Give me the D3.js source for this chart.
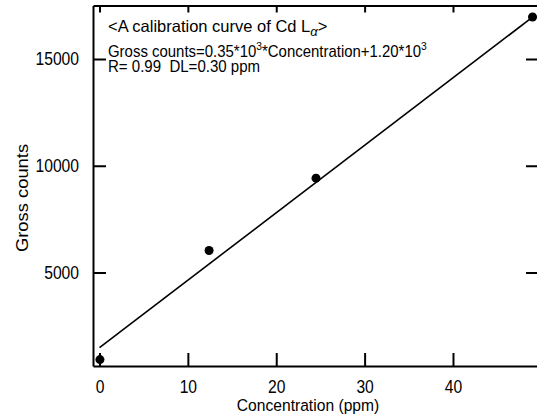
<!DOCTYPE html>
<html>
<head>
<meta charset="utf-8">
<script src="https://cdn.jsdelivr.net/npm/d3@7"></script>
<style>
  body { margin: 0; background: #fff; }
  svg text { font-family: "Liberation Sans", Arial, sans-serif; fill: #000; }
  .axis path, .axis line { stroke: #000; stroke-width: 2; }
</style>
</head>
<body>
<svg id="chart"></svg>
<script>
// Datos
const concentration = [0.05, 12.4, 24.5, 49.0];
const grossCounts = [920, 6030, 9420, 16970];
const fitX = [0, 49.0];
const fitY = [1480, 16960];
const xTicks = [0, 10, 20, 30, 40];
const yTicks = [5000, 10000, 15000];

const W = 537, H = 418;
const k = 0.87; // letra estrecha
const svg = d3.select("#chart").attr("width", W).attr("height", H);

// Escalas
const plotLeft = 93, plotRight = 538, plotTop = 5.5, plotBottom = 366;
const x = d3.scaleLinear().domain([-0.735, 49.62]).range([plotLeft, plotRight]);
const y = d3.scaleLinear().domain([621, 17506]).range([plotBottom, plotTop]);

// Ejes
svg.append("g").attr("class", "axis")
    .attr("transform", `translate(0,${plotBottom})`)
    .call(d3.axisBottom(x).tickValues(xTicks).tickSizeInner(-13).tickSizeOuter(0).tickPadding(14).tickFormat(d3.format("d")))
    .call(g => g.selectAll("text").attr("font-family", null).style("font-size", "18px")
        .attr("transform", `scale(${k},1)`));

svg.append("g").attr("class", "axis")
    .attr("transform", `translate(0,${plotTop})`)
    .call(d3.axisTop(x).tickValues(xTicks).tickSizeInner(-7).tickSizeOuter(0).tickFormat(""));

svg.append("g").attr("class", "axis")
    .attr("transform", `translate(${plotLeft},0)`)
    .call(d3.axisLeft(y).tickValues(yTicks).tickSizeInner(-13).tickSizeOuter(0).tickPadding(14).tickFormat(d3.format("d")))
    .call(g => g.selectAll("text").attr("font-family", null).style("font-size", "18px")
        .attr("x", -14 / k).attr("transform", `scale(${k},1)`));

svg.append("g").attr("class", "axis")
    .attr("transform", `translate(${plotRight},0)`)
    .call(d3.axisRight(y).tickValues(yTicks).tickSizeInner(-12).tickSizeOuter(0).tickFormat(""));

// Recta de calibración
svg.append("path")
    .datum(fitX.map((d, i) => [d, fitY[i]]))
    .attr("fill", "none")
    .attr("stroke", "#000")
    .attr("stroke-width", 1.6)
    .attr("d", d3.line().x(d => x(d[0])).y(d => y(d[1])));

// Puntos
svg.selectAll(".pt")
    .data(concentration)
    .enter().append("circle")
    .attr("class", "pt")
    .attr("cx", d => x(d))
    .attr("cy", (d, i) => y(grossCounts[i]))
    .attr("r", 4.5)
    .attr("fill", "#000");

// Títulos de ejes
svg.append("text")
    .attr("transform", `translate(308,411) scale(0.92,1)`)
    .attr("text-anchor", "middle")
    .style("font-size", "17px")
    .text("Concentration (ppm)");

svg.append("text")
    .attr("transform", `translate(28,198) rotate(-90) scale(1.08,1)`)
    .attr("text-anchor", "middle")
    .style("font-size", "17px")
    .text("Gross counts");

// Anotación
const t1 = svg.append("text").attr("transform", `translate(108,32) scale(1,1)`).style("font-size", "16.5px");
t1.append("tspan").text("<A calibration curve of Cd L");
t1.append("tspan").attr("baseline-shift", "-30%").style("font-size", "13px").style("font-style", "italic").text("α");
t1.append("tspan").text(">");

const t2 = svg.append("text").attr("transform", `translate(108,56.5) scale(0.935,1)`).style("font-size", "16px");
t2.append("tspan").text("Gross counts=0.35*10");
t2.append("tspan").attr("baseline-shift", "55%").style("font-size", "11px").text("3");
t2.append("tspan").text("*Concentration+1.20*10");
t2.append("tspan").attr("baseline-shift", "55%").style("font-size", "11px").text("3");

svg.append("text").attr("transform", `translate(108,72) scale(0.94,1)`).style("font-size", "16px")
    .attr("xml:space", "preserve")
    .text("R= 0.99  DL=0.30 ppm");
</script>
</body>
</html>
